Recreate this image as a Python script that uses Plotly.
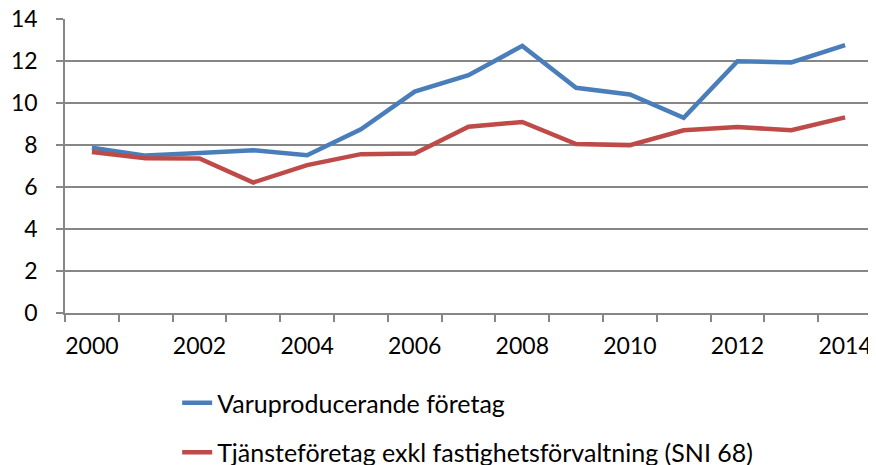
import plotly.graph_objects as go

years = list(range(2000, 2015))
varu = [7.87, 7.50, 7.63, 7.76, 7.52, 8.75, 10.55, 11.33, 12.73, 10.73, 10.41, 9.30, 12.00, 11.94, 12.76]
tjanst = [7.67, 7.38, 7.36, 6.22, 7.05, 7.57, 7.60, 8.88, 9.10, 8.05, 8.00, 8.71, 8.86, 8.71, 9.32]
names = ["Varuproducerande företag", "Tjänsteföretag exkl fastighetsförvaltning (SNI 68)"]
tick_years = years[::2]
boundaries = [y - 0.5 for y in years] + [years[-1] + 0.5]

FONT = "Lato"
GRID = "#868686"

fig = go.Figure()
fig.add_trace(go.Scatter(x=years, y=varu, mode="lines", name=names[0],
                         line=dict(color="#4A7EBB", width=4.5), legendgroup="a"))
fig.add_trace(go.Scatter(x=years, y=tjanst, mode="lines", name=names[1],
                         line=dict(color="#BE4B48", width=4.5), legendgroup="b"))

# page has an 8px body margin, so the figure is 8px smaller than the window
fig.update_layout(
    width=868, height=457,
    margin=dict(l=57, r=4, t=11, b=152, autoexpand=False),
    paper_bgcolor="white", plot_bgcolor="white",
    font=dict(family=FONT, size=23, color="black"),
    showlegend=True,
    legend=dict(x=0.139, y=-0.228, xanchor="left", yanchor="top",
                traceorder="grouped", tracegroupgap=14, maxheight=1,
                font=dict(size=25), bgcolor="rgba(0,0,0,0)"),
    xaxis=dict(range=[1999.5, 2014.5], tickvals=tick_years,
               ticktext=[str(y) for y in tick_years], automargin=False,
               tickangle=0, ticklabeloverflow="allow",
               ticks="outside", ticklen=12, tickcolor="rgba(0,0,0,0)",
               showline=True, linecolor=GRID, linewidth=1.5,
               showgrid=False, zeroline=False,
               minor=dict(tickvals=boundaries, ticks="outside", ticklen=7,
                          tickcolor=GRID, tickwidth=1.5, showgrid=False)),
    yaxis=dict(range=[0, 14.01], tickvals=list(range(0, 15, 2)), automargin=False,
               ticklabeloverflow="allow",
               ticks="outside", ticklen=7, tickcolor=GRID, tickwidth=1.5,
               ticklabelstandoff=14,
               showline=True, linecolor=GRID, linewidth=1.5,
               showgrid=True, gridcolor=GRID, gridwidth=1.5, zeroline=False),
)

fig.write_html("out.html")
